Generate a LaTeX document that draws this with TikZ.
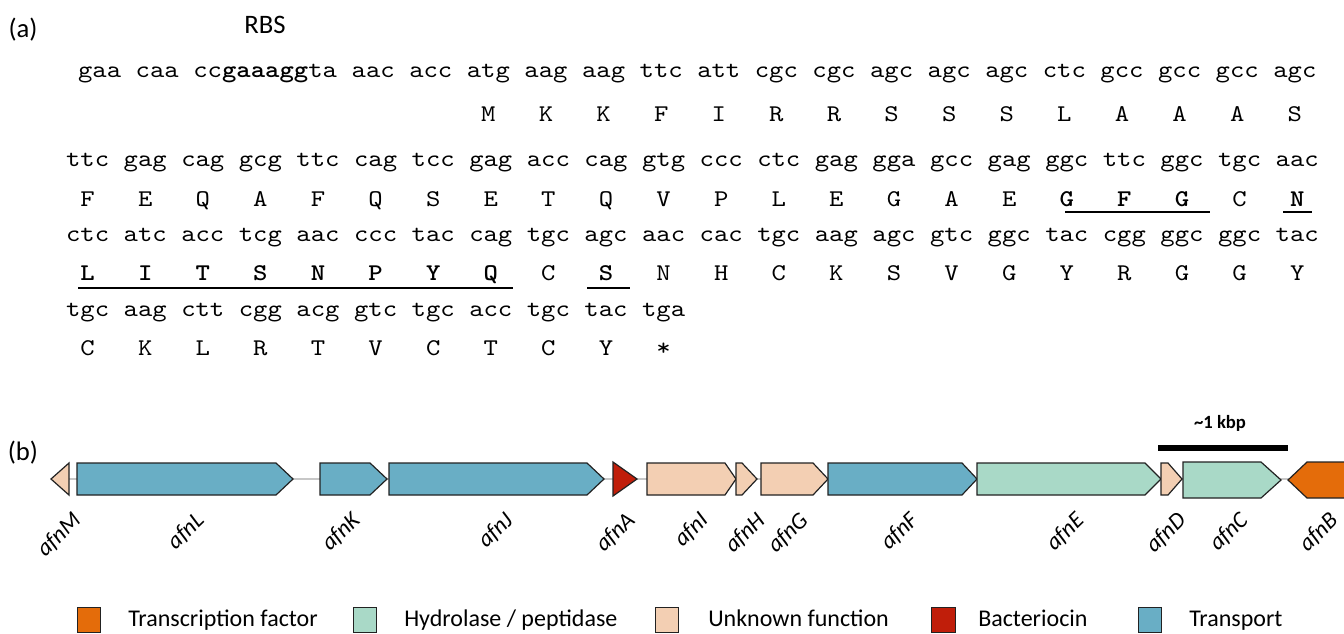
\documentclass[tikz,border=0pt]{standalone}
\usepackage{fontspec}
\setmainfont{Carlito}
\newfontfamily\dnafont{lmmono10-regular.otf}[BoldFont=lmmonolt10-bold.otf,FakeStretch=1.14]
\definecolor{transport}{HTML}{69AEC5}
\definecolor{unknown}{HTML}{F3CFB3}
\definecolor{bact}{HTML}{C01E0A}
\definecolor{hydro}{HTML}{A9D9C7}
\definecolor{tf}{HTML}{E46C0A}
\definecolor{edge}{HTML}{222222}
\tikzset{
  seq/.style={font=\dnafont\fontsize{18}{20}\selectfont, inner sep=0pt, anchor=base},
  aa/.style={seq},
  aab/.style={seq, font=\dnafont\bfseries\fontsize{18}{20}\selectfont},
  ul/.style={line width=1.9pt},
  gene/.style={draw=edge, line width=0.9pt, line join=miter},
  glabel/.style={font=\itshape\fontsize{17.5}{19}\selectfont, inner sep=0pt, rotate=44, anchor=north east},
  panel/.style={font=\fontsize{20}{22}\selectfont, inner sep=0pt},
  legbox/.style={draw=edge, line width=0.6pt},
  legtext/.style={font=\fontsize{18}{20}\selectfont, inner sep=0pt, anchor=base west},
  backbone/.style={draw=black!22, line width=1.5pt},
}
\newcommand\fwdgene[6]{\draw[gene, fill=#6] (#1,#4) -- (#2,#4) -- (#3,{(#4+#5)/2}) -- (#2,#5) -- (#1,#5) -- cycle;}
\begin{document}
\begin{tikzpicture}[x=0.75pt,y=-0.75pt]
\useasboundingbox[fill=white] (0,0) rectangle (1344,633);
% panel labels
\node[panel] (pa) at (23,30) {(a)};
\node[panel] (rbs) at (265,25) {RBS};
\node[panel] (pb) at (23,453) {(b)};
% row 1
\node[seq] (r1t0) at (99.6,77) {gaa};
\node[seq] (r1t1) at (157.2,77) {caa};
\node[seq] (r1t2) at (265.2,77) {cc\textbf{gaaagg}ta};
\foreach \c [count=\k from 0] in {aac,acc,atg,aag,aag,ttc,att,cgc,cgc,agc,agc,agc,ctc,gcc,gcc,gcc,agc}
  \node[seq] (r1c\k) at ({78+(20.5+4*\k)*14.4},77) {\c};
\foreach \a [count=\j from 0] in {M,K,K,F,I,R,R,S,S,S,L,A,A,A,S}
  \node[aa] (r1a\j) at ({78+(28.5+4*\j)*14.4},121) {\a};
% row 2
\foreach \c [count=\i from 0] in {ttc,gag,cag,gcg,ttc,cag,tcc,gag,acc,cag,gtg,ccc,ctc,gag,gga,gcc,gag,ggc,ttc,ggc,tgc,aac}
  \node[seq] (r2c\i) at ({66+(1.5+4*\i)*14.4},166) {\c};
\foreach \a/\s [count=\i from 0] in {F/aa,E/aa,Q/aa,A/aa,F/aa,Q/aa,S/aa,E/aa,T/aa,Q/aa,V/aa,P/aa,L/aa,E/aa,G/aa,A/aa,E/aa,G/aab,F/aab,G/aab,C/aa,N/aab}
  \node[\s] (r2a\i) at ({66+(1.5+4*\i)*14.4},206) {\a};
% row 3
\foreach \c [count=\i from 0] in {ctc,atc,acc,tcg,aac,ccc,tac,cag,tgc,agc,aac,cac,tgc,aag,agc,gtc,ggc,tac,cgg,ggc,ggc,tac}
  \node[seq] (r3c\i) at ({66+(1.5+4*\i)*14.4},241) {\c};
\foreach \a/\s [count=\i from 0] in {L/aab,I/aab,T/aab,S/aab,N/aab,P/aab,Y/aab,Q/aab,C/aa,S/aab,N/aa,H/aa,C/aa,K/aa,S/aa,V/aa,G/aa,Y/aa,R/aa,G/aa,G/aa,Y/aa}
  \node[\s] (r3a\i) at ({66+(1.5+4*\i)*14.4},280) {\a};
% row 4
\foreach \c [count=\i from 0] in {tgc,aag,ctt,cgg,acg,gtc,tgc,acc,tgc,tac,tga}
  \node[seq] (r4c\i) at ({66+(1.5+4*\i)*14.4},316) {\c};
\foreach \a [count=\i from 0] in {C,K,L,R,T,V,C,T,C,Y,*}
  \node[aa] (r4a\i) at ({66+(1.5+4*\i)*14.4},355) {\a};
% underlines
\draw[ul] (1065,212) -- (1210,212);
\draw[ul] (1283,212) -- (1312,212);
\draw[ul] (78,288) -- (513,288);
\draw[ul] (587,288) -- (630,288);
% (b) gene cluster
\draw[backbone] (60,479) -- (1300,479);
\draw[gene, fill=unknown] (69,463) -- (51,479) -- (69,495) -- cycle;
\fwdgene{77}{276}{293}{463}{495}{transport}
\fwdgene{320}{370}{387}{463}{495}{transport}
\fwdgene{389}{587}{604}{463}{495}{transport}
\draw[gene, fill=bact] (613,462) -- (637,479) -- (613,496) -- cycle;
\fwdgene{647}{725}{736}{463}{495}{unknown}
\fwdgene{736}{742}{757}{463}{495}{unknown}
\fwdgene{761}{813}{828}{463}{495}{unknown}
\fwdgene{828}{962}{977}{463}{495}{transport}
\fwdgene{977}{1145}{1161}{463}{495}{hydro}
\fwdgene{1161}{1168}{1182}{463}{495}{unknown}
\fwdgene{1183}{1261}{1281}{462}{498}{hydro}
\draw[gene, fill=tf] (1344,462) -- (1307,462) -- (1288,480) -- (1307,498) -- (1344,498);
% scale bar
\draw[line width=3.8pt] (1158,448) -- (1288,448);
\node[font=\bfseries\fontsize{14}{16}\selectfont, inner sep=0pt] (kbp) at (1220,423) {\textasciitilde 1 kbp};
% gene labels
\node[glabel] (lM) at (71,510) {afnM};
\node[glabel] (lL) at (194,510) {afnL};
\node[glabel] (lK) at (350,510) {afnK};
\node[glabel] (lJ) at (503,510) {afnJ};
\node[glabel] (lA) at (625,510) {afnA};
\node[glabel] (lI) at (698,510) {afnI};
\node[glabel] (lH) at (755,510) {afnH};
\node[glabel] (lG) at (798,510) {afnG};
\node[glabel] (lF) at (908,510) {afnF};
\node[glabel] (lE) at (1074,510) {afnE};
\node[glabel] (lD) at (1176,510) {afnD};
\node[glabel] (lC) at (1238,510) {afnC};
\node[glabel] (lB) at (1328,510) {afnB};
% legend
\draw[legbox, fill=tf] (77,607) rectangle (100,632);
\node[legtext] (t1) at (128,626) {Transcription factor};
\draw[legbox, fill=hydro] (353,607) rectangle (376,632);
\node[legtext] (t2) at (404,626) {Hydrolase / peptidase};
\draw[legbox, fill=unknown] (655,607) rectangle (678,632);
\node[legtext] (t3) at (708,626) {Unknown function};
\draw[legbox, fill=bact] (931,607) rectangle (955,632);
\node[legtext] (t4) at (978,626) {Bacteriocin};
\draw[legbox, fill=transport] (1138,607) rectangle (1161,632);
\node[legtext] (t5) at (1189,626) {Transport};
\end{tikzpicture}
\end{document}
